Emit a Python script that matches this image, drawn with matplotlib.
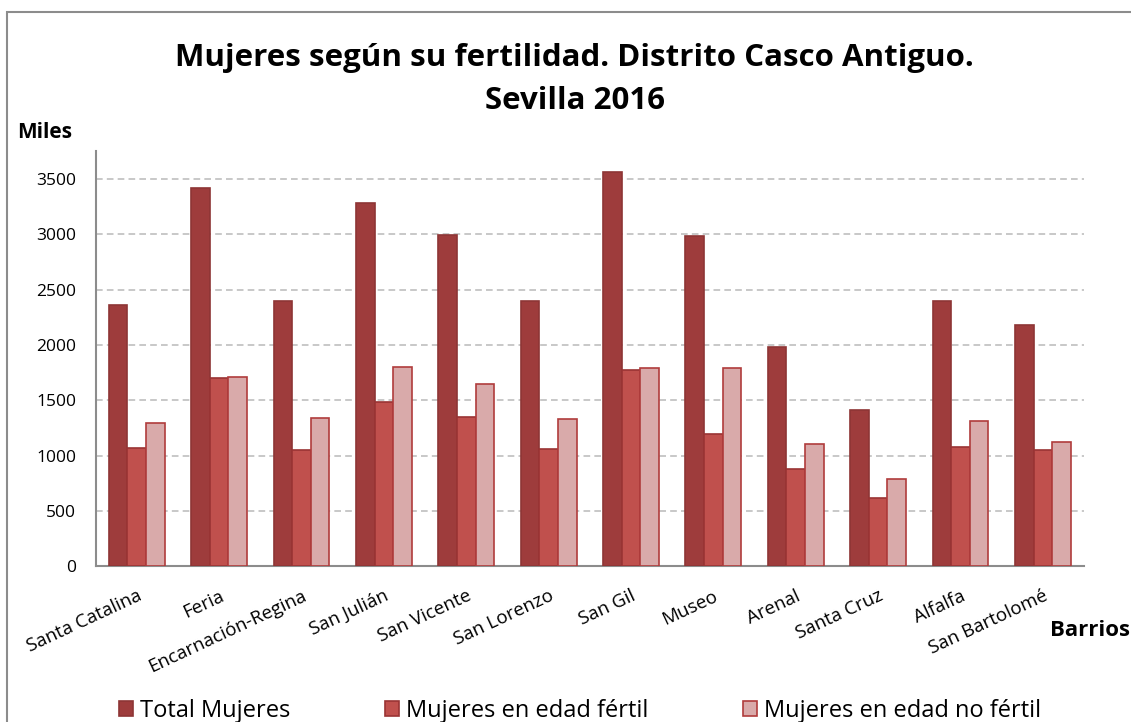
import numpy as np
import matplotlib
matplotlib.use('Agg')
import matplotlib.pyplot as plt
from matplotlib.patches import Rectangle

barrios = ['Santa Catalina', 'Feria', 'Encarnación-Regina', 'San Julián', 'San Vicente',
           'San Lorenzo', 'San Gil', 'Museo', 'Arenal', 'Santa Cruz', 'Alfalfa', 'San Bartolomé']
total = [2365, 3418, 2395, 3288, 2996, 2395, 3563, 2989, 1979, 1415, 2395, 2178]
fertil = [1071, 1701, 1053, 1481, 1351, 1056, 1771, 1195, 875, 615, 1080, 1047]
no_fertil = [1291, 1714, 1340, 1804, 1644, 1333, 1789, 1789, 1104, 790, 1315, 1125]
series = ['Total Mujeres', 'Mujeres en edad fértil', 'Mujeres en edad no fértil']
yticks = [0, 500, 1000, 1500, 2000, 2500, 3000, 3500]

plt.rcParams['font.family'] = ['Open Sans', 'DejaVu Sans']

fig = plt.figure(figsize=(11.31, 7.22), dpi=100)
ax = fig.add_axes([0.0845, 0.216, 0.874, 0.575])

# marco gris del gráfico
fig.patches.append(Rectangle((7/1131, -0.1), 1.2, 1 - 12/722 + 0.1, transform=fig.transFigure,
                             fill=False, edgecolor='#8c8c8c', linewidth=1.5))

x = np.arange(len(barrios))
w = 0.226
caras = ['#9e3c3c', '#c0504d', '#d9aaaa']
bordes = ['#8e3535', '#9a3434', '#b03c3c']
datos = [total, fertil, no_fertil]
for i in range(3):
    ax.bar(x + (i - 1) * w, datos[i], width=w, color=caras[i], edgecolor=bordes[i],
           linewidth=1.2, label=series[i], zorder=3)

ax.set_xlim(-0.5, len(barrios) - 0.5)
ax.set_ylim(0, 3756)
ax.set_yticks(yticks)
ax.set_yticklabels([str(v) for v in yticks], fontsize=12.5)
ax.grid(axis='y', linestyle=(0, (4, 2.5)), color='#bfbfbf', linewidth=1.2, zorder=0)
ax.tick_params(axis='both', length=0, pad=14)
ax.tick_params(axis='x', pad=15)
ax.set_xticks(x)
ax.set_xticklabels(barrios, rotation=25, ha='right', rotation_mode='anchor', fontsize=13.5)
for s in ['top', 'right']:
    ax.spines[s].set_visible(False)
for s in ['left', 'bottom']:
    ax.spines[s].set_color('#8c8c8c')
    ax.spines[s].set_linewidth(1.5)

fig.text(0.508, 0.919, 'Mujeres según su fertilidad. Distrito Casco Antiguo.', ha='center',
         va='center', fontsize=22.5, fontweight='bold')
fig.text(0.508, 0.860, 'Sevilla 2016', ha='center', va='center', fontsize=22.5, fontweight='bold')
fig.text(0.015, 0.817, 'Miles', ha='left', va='center', fontsize=15, fontweight='bold')
fig.text(0.928, 0.127, 'Barrios', ha='left', va='center', fontsize=16, fontweight='bold')

leg = ax.legend(loc='center', bbox_to_anchor=(0.49, -0.348), ncol=3, frameon=False,
                fontsize=17, handlelength=0.6, handleheight=0.6, handletextpad=0.3,
                columnspacing=4.0)

fig.savefig('out.png', dpi=100)
